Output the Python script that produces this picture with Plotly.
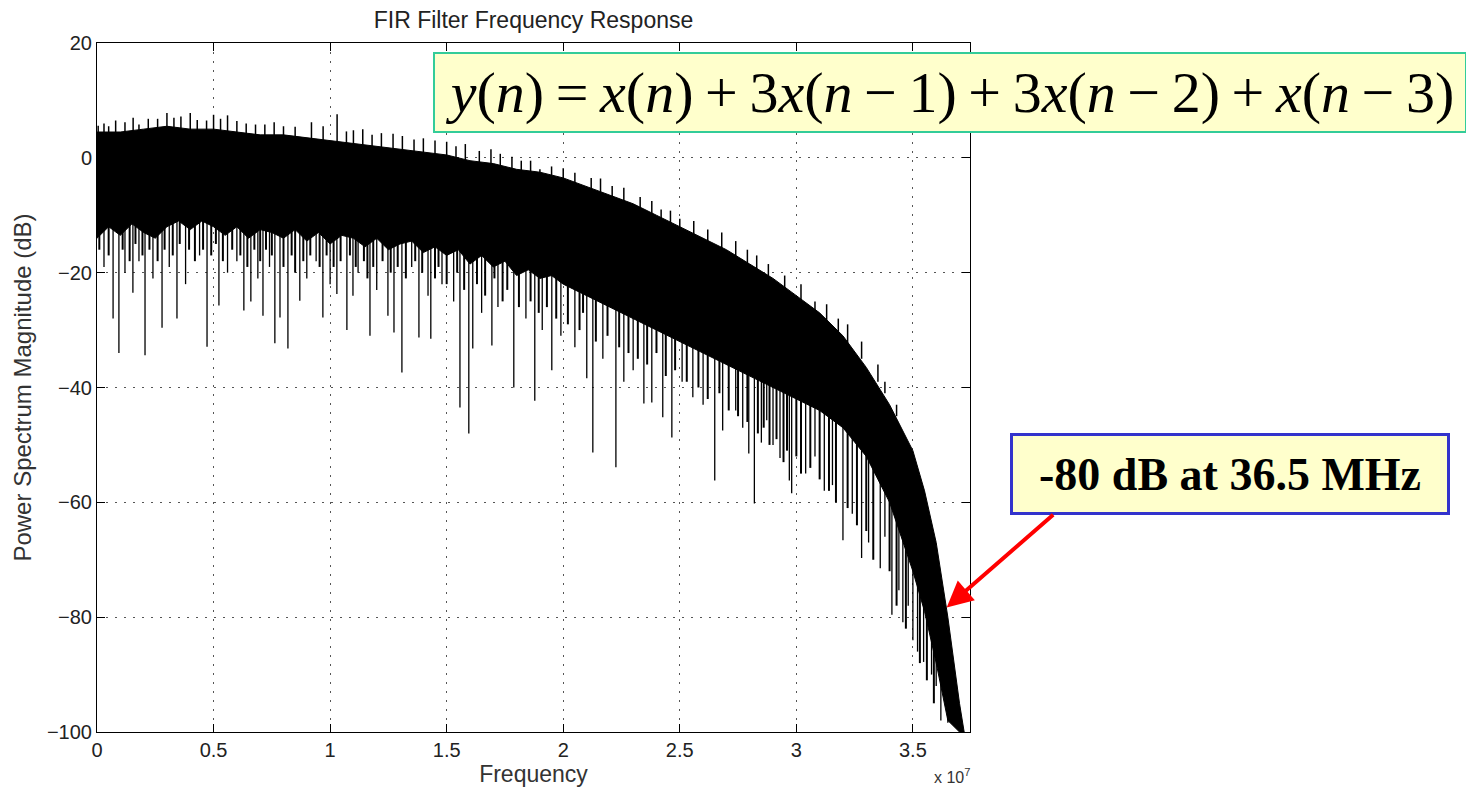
import plotly.graph_objects as go

# ---------------- data (frequency in units of 1e7 Hz, magnitude in dB) ----------------
# upper edge of the dense black band
up_env_x = [0, 0.1, 0.2, 0.3, 0.4, 0.5, 0.6, 0.7, 0.8, 0.9, 1.0, 1.1, 1.2, 1.3, 1.4, 1.5,
            1.6, 1.7, 1.8, 1.9, 2.0, 2.1, 2.2, 2.3, 2.4, 2.5, 2.6, 2.7, 2.8, 2.9, 3.0, 3.1,
            3.2, 3.3, 3.4, 3.45, 3.5, 3.55, 3.6, 3.65, 3.7, 3.72]
upper_db = [4.5, 4.5, 5, 5.5, 5, 5, 4.5, 4, 4, 3.5, 3, 2.5, 2, 1.5, 1, 0.5,
            -0.5, -1, -2, -2.5, -3.5, -5, -6.5, -8, -10, -12, -14, -16, -18.5, -21, -24, -27,
            -31, -36.5, -43, -47, -51, -58, -67, -80, -95, -100]
# lower edge of the dense black band
low_env_x = [0, 0.05, 0.1, 0.15, 0.2, 0.25, 0.3, 0.35, 0.4, 0.45, 0.5, 0.55, 0.6, 0.65, 0.7, 0.75,
             0.8, 0.85, 0.9, 0.95, 1.0, 1.05, 1.1, 1.15, 1.2, 1.25, 1.3, 1.35, 1.4, 1.45, 1.5, 1.55,
             1.6, 1.65, 1.7, 1.75, 1.8, 1.85, 1.9, 1.95, 2.0, 2.1, 2.2, 2.3, 2.4, 2.5, 2.6, 2.7,
             2.8, 2.9, 3.0, 3.1, 3.2, 3.3, 3.4, 3.45, 3.5, 3.55, 3.6, 3.65, 3.7, 3.72]
lower_db = [-14, -12, -13.5, -11.5, -13, -14, -12, -11, -12.5, -11, -12, -13.5, -12, -14, -12.5, -13,
            -14, -12.5, -14.5, -13, -15, -13.5, -14, -15.5, -14, -16, -15, -14.5, -16.5, -15.5, -17, -16,
            -18.5, -17, -19, -18, -20.5, -19.5, -21, -20.5, -22, -24, -26, -28, -30, -32, -34, -36,
            -38, -40, -42, -44, -47, -52, -60, -66, -72, -79, -88, -98, -100, -100]

# deep downward spikes: position, start (inside band), tip
dn_x = [0.03, 0.069, 0.094, 0.12, 0.154, 0.18, 0.206, 0.24, 0.279, 0.31, 0.343, 0.38, 0.44, 0.472,
        0.523, 0.56, 0.60, 0.630, 0.660, 0.69, 0.712, 0.74, 0.763, 0.785, 0.819, 0.870, 0.90, 0.94,
        0.969, 1.0, 1.029, 1.072, 1.098, 1.12, 1.171, 1.20, 1.248, 1.274, 1.308, 1.35, 1.381, 1.42,
        1.432, 1.48, 1.53, 1.557, 1.595, 1.612, 1.65, 1.694, 1.72, 1.788, 1.84, 1.878, 1.91, 1.951,
        1.99, 2.05, 2.101, 2.127, 2.17, 2.226, 2.26, 2.30, 2.346, 2.38, 2.427, 2.466, 2.51, 2.556,
        2.60, 2.65, 2.684, 2.74, 2.77, 2.796, 2.82, 2.85, 2.873, 2.90, 2.93, 2.97, 2.98, 3.04, 3.08,
        3.12, 3.155, 3.2, 3.24, 3.28, 3.31, 3.36, 3.38, 3.41, 3.44, 3.457, 3.48, 3.50, 3.52, 3.546,
        3.58, 3.60, 3.62, 3.65]
dn_from = [-10, -10, -10, -10, -10, -10, -10, -10, -10, -10, -10, -10, -10, -10,
           -10, -10, -10, -10, -10, -10, -10, -10, -10, -10, -10, -10, -10, -10,
           -11, -11, -11, -11, -11, -11, -12, -12, -12, -12, -12, -12, -13, -13,
           -13, -13, -14, -14, -14, -14, -15, -15, -15, -16, -16, -17, -17, -18,
           -18, -19, -20, -20, -21, -22, -23, -24, -25, -25, -26, -27, -28, -29,
           -30, -31, -32, -33, -34, -34, -35, -35, -36, -36, -37, -38, -38, -39, -40,
           -41, -42, -43, -44, -46, -48, -52, -53, -55, -58, -59, -62, -64, -67, -70,
           -76, -80, -84, -88]
dn_tip = [-19, -28, -34, -20, -23.5, -18, -34.4, -21, -29.6, -19, -28, -22, -17, -32.9,
          -25.7, -20, -18, -26.6, -25, -21, -27.5, -19, -32.3, -27.8, -33.2, -24.9, -21, -18,
          -27.8, -22, -23.7, -30, -24, -20, -31, -23, -27.5, -30.4, -37.4, -19, -31.3, -24,
          -31.5, -22, -25, -43.5, -48, -33.2, -27, -32.7, -26, -40, -28, -42.3, -30, -37,
          -31, -33, -38.4, -51.3, -35, -53.9, -39, -37, -42.8, -42.6, -45.2, -48.7, -39, -41.7,
          -43, -56.2, -47.5, -44, -47, -51.5, -60.2, -49.6, -45.7, -50, -52.3, -56.2, -58.4, -55, -52,
          -58, -57, -66.6, -62, -69.7, -67, -71.5, -66, -79.6, -75.3, -80.9, -78, -84, -86, -87.8,
          -90, -92, -98, -98.4]

# shorter downward spikes fringing the lower edge of the band
mid_x = [0.01, 0.05, 0.11, 0.14, 0.165, 0.195, 0.225, 0.26, 0.29, 0.325, 0.355, 0.395, 0.42, 0.455,
         0.49, 0.51, 0.54, 0.58, 0.615, 0.645, 0.675, 0.70, 0.725, 0.75, 0.80, 0.835, 0.85, 0.885,
         0.915, 0.955, 0.985, 1.015, 1.045, 1.085, 1.11, 1.145, 1.16, 1.185, 1.225, 1.26, 1.29, 1.325,
         1.365, 1.395, 1.45, 1.465, 1.50, 1.545, 1.575, 1.63, 1.665, 1.705, 1.74, 1.76, 1.81, 1.86,
         1.895, 1.93, 1.97, 2.02, 2.07, 2.085, 2.14, 2.19, 2.24, 2.28, 2.32, 2.36, 2.40, 2.44, 2.48,
         2.53, 2.58, 2.62, 2.67, 2.71, 2.75, 2.79, 2.835, 2.86, 2.885, 2.915, 2.945, 2.96, 3.0, 3.02,
         3.06, 3.10, 3.14, 3.17, 3.22, 3.26, 3.30, 3.33, 3.40, 3.43, 3.47, 3.53, 3.56, 3.59]
mid_from = [-11, -11, -11, -11, -11, -11, -11, -11, -11, -11, -11, -11, -11, -11,
            -11, -11, -11, -11, -11, -11, -11, -11, -11, -11, -12, -12, -12, -12,
            -12, -12, -13, -13, -13, -13, -13, -13, -13, -13, -14, -14, -14, -14,
            -14, -14, -14, -14, -15, -15, -16, -16, -16, -17, -17, -17, -18, -18,
            -18, -19, -19, -21, -22, -22, -23, -25, -26, -26, -27, -28, -29, -30, -30,
            -31, -32, -33, -34, -35, -36, -37, -38, -38, -39, -39, -40, -40, -41, -41,
            -42, -43, -44, -45, -46, -48, -51, -53, -58, -62, -66, -74, -78, -83]
mid_tip = [-16, -17, -16, -18, -15, -17, -16, -18, -16, -17, -15, -16, -18, -16,
           -17, -15, -18, -16, -17, -19, -16, -18, -16, -17, -19, -17, -20, -18,
           -17, -19, -17, -19, -18, -17, -19, -18, -21, -19, -18, -20, -19, -21,
           -18, -20, -21, -19, -22, -20, -23, -22, -24, -21, -25, -23, -26, -25,
           -27, -26, -28, -29, -30, -27, -32, -31, -33, -34, -35, -36, -34, -38, -37,
           -39, -40, -42, -41, -44, -45, -46, -48, -47, -50, -49, -53, -51, -52, -55,
           -54, -56, -58, -60, -61, -64, -65, -70, -72, -78, -82, -88, -91, -95]

# upward spikes: position, start (inside band), tip
up_x = [0.005, 0.03, 0.05, 0.08, 0.12, 0.155, 0.18, 0.22, 0.26, 0.30, 0.33, 0.36, 0.40, 0.43,
        0.47, 0.50, 0.53, 0.56, 0.60, 0.64, 0.68, 0.72, 0.76, 0.80, 0.85, 0.92, 0.97, 1.03,
        1.07, 1.10, 1.14, 1.18, 1.22, 1.27, 1.31, 1.36, 1.40, 1.45, 1.50, 1.54, 1.58, 1.64,
        1.69, 1.73, 1.78, 1.82, 1.86, 1.90, 1.95, 2.00, 2.05, 2.12, 2.16, 2.21, 2.26, 2.33,
        2.38, 2.42, 2.46, 2.50, 2.56, 2.62, 2.68, 2.74, 2.79, 2.83, 2.88, 2.95, 3.02, 3.08,
        3.13, 3.18, 3.22, 3.28, 3.35, 3.38, 3.43]
up_from = [3, 3, 3, 3, 3, 3, 3, 3, 3, 3, 3, 3, 3, 3,
           3, 3, 3, 3, 3, 3, 2, 2, 2, 2, 2, 2, 1, 1,
           0, 0, 0, 0, 0, 0, -1, -1, -1, -1, -2, -2, -2, -3,
           -3, -3, -4, -4, -4, -5, -5, -6, -6, -7, -7, -8, -9, -10,
           -11, -12, -13, -14, -15, -16, -17, -18, -19, -20, -21, -23, -25, -28,
           -30, -32, -33, -35, -39, -41, -45]
up_tip = [5.6, 6.0, 5.5, 6.5, 6.2, 7.0, 5.8, 6.8, 6.8, 7.8, 7.0, 7.2, 7.8, 6.6,
          6.5, 7.5, 6.8, 7.4, 6.4, 6.0, 5.8, 5.8, 6.2, 5.5, 5.4, 6.2, 5.5, 7.6,
          4.6, 4.8, 5.0, 4.0, 4.3, 4.2, 3.8, 3.2, 3.4, 3.0, 2.8, 2.0, 2.4, 1.2,
          1.5, 0.7, 0.2, -0.5, -0.5, -2, -1.5, -1.8, -2.6, -3.5, -3.6, -4.9, -5.2, -6.8,
          -7.5, -9, -9.2, -10.6, -11, -12.5, -13, -14.5, -16, -17, -18.5, -20.5, -22, -25,
          -25.5, -28, -29, -32, -36, -39, -43]

x_ticks = [0, 0.5, 1, 1.5, 2, 2.5, 3, 3.5]
x_tick_text = ["0", "0.5", "1", "1.5", "2", "2.5", "3", "3.5"]
y_ticks = [-100, -80, -60, -40, -20, 0, 20]

# ---------------- build traces ----------------
def segments(xs, y0s, y1s):
    sx, sy = [], []
    for x, a, b in zip(xs, y0s, y1s):
        sx += [x, x, None]
        sy += [a, b, None]
    return sx, sy

band_x = up_env_x + low_env_x[::-1]
band_y = upper_db + lower_db[::-1]

dsx, dsy = segments(dn_x, dn_from, dn_tip)
msx, msy = segments(mid_x, mid_from, mid_tip)
usx, usy = segments(up_x, up_from, up_tip)

fig = go.Figure()
fig.add_trace(go.Scatter(x=band_x, y=band_y, mode="lines", fill="toself", fillcolor="black",
                         line=dict(color="black", width=1), showlegend=False, hoverinfo="skip"))
for sx, sy, w in [(msx, msy, 2), (dsx, dsy, 1.3), (usx, usy, 1.5)]:
    fig.add_trace(go.Scatter(x=sx, y=sy, mode="lines", line=dict(color="black", width=w),
                             showlegend=False, hoverinfo="skip"))

sans = "Liberation Sans, Arial, sans-serif"
serif = "Liberation Serif, Times New Roman, serif"
axis_common = dict(showline=True, linecolor="black", linewidth=1, mirror="ticks",
                   ticks="inside", ticklen=8, tickcolor="black", automargin=False,
                   showgrid=True, gridcolor="#555555", gridwidth=1, griddash="2px,7px",
                   zeroline=False, tickfont=dict(family=sans, size=20, color="#222"))

fig.update_xaxes(range=[0, 3.745], tickvals=x_ticks, ticktext=x_tick_text,
                 title=dict(text="Frequency", font=dict(family=sans, size=23, color="#333"), standoff=5),
                 **axis_common)
fig.update_yaxes(range=[-100, 20], tickvals=y_ticks,
                 title=dict(text="Power Spectrum Magnitude (dB)", font=dict(family=sans, size=24, color="#333"),
                            standoff=8),
                 **axis_common)

eq = ("<i>y</i>(<i>n</i>)\u2009=\u2009<i>x</i>(<i>n</i>)\u2009+\u20093<i>x</i>(<i>n</i>\u2009\u2212\u20091)"
      "\u2009+\u20093<i>x</i>(<i>n</i>\u2009\u2212\u20092)\u2009+\u2009<i>x</i>(<i>n</i>\u2009\u2212\u20093)")

# page body has an 8px margin: the figure is sized/offset so that its plot lands where the reference's is
W, H = 1466, 781
fig.update_layout(
    width=W, height=H,
    margin=dict(l=89, r=504, t=35, b=57),
    paper_bgcolor="white", plot_bgcolor="white",
    title=dict(text="FIR Filter Frequency Response", x=0.5, xref="paper", y=1 - 12 / H,
               yanchor="middle", xanchor="center",
               font=dict(family=sans, size=23, color="#222")),
    annotations=[
        dict(text=eq, xref="paper", yref="paper", x=0.977, y=0.928, xanchor="center", yanchor="middle",
             showarrow=False, font=dict(family=serif, size=58, color="black"),
             bgcolor="#FFFFCC", bordercolor="#33CC99", borderwidth=2, borderpad=0,
             width=1030, height=77),
        dict(text="<b>-80 dB at 36.5 MHz</b>", xref="paper", yref="paper", x=1.2978, y=0.3745,
             xanchor="center", yanchor="middle", showarrow=False,
             font=dict(family=serif, size=46, color="black"),
             bgcolor="#FFFFCC", bordercolor="#3333CC", borderwidth=3, borderpad=0,
             width=434, height=76),
        dict(text="", x=3.645, y=-78.3, xref="x", yref="y", ax=108, ay=-94,
             showarrow=True, arrowcolor="#FF0000", arrowwidth=4, arrowhead=2, arrowsize=1.3),
        dict(text="x 10<sup>7</sup>", xref="paper", yref="paper", x=0.979, y=-0.064,
             xanchor="center", yanchor="middle", showarrow=False,
             font=dict(family=sans, size=16, color="#333")),
    ],
)

fig.write_html("out.html")
